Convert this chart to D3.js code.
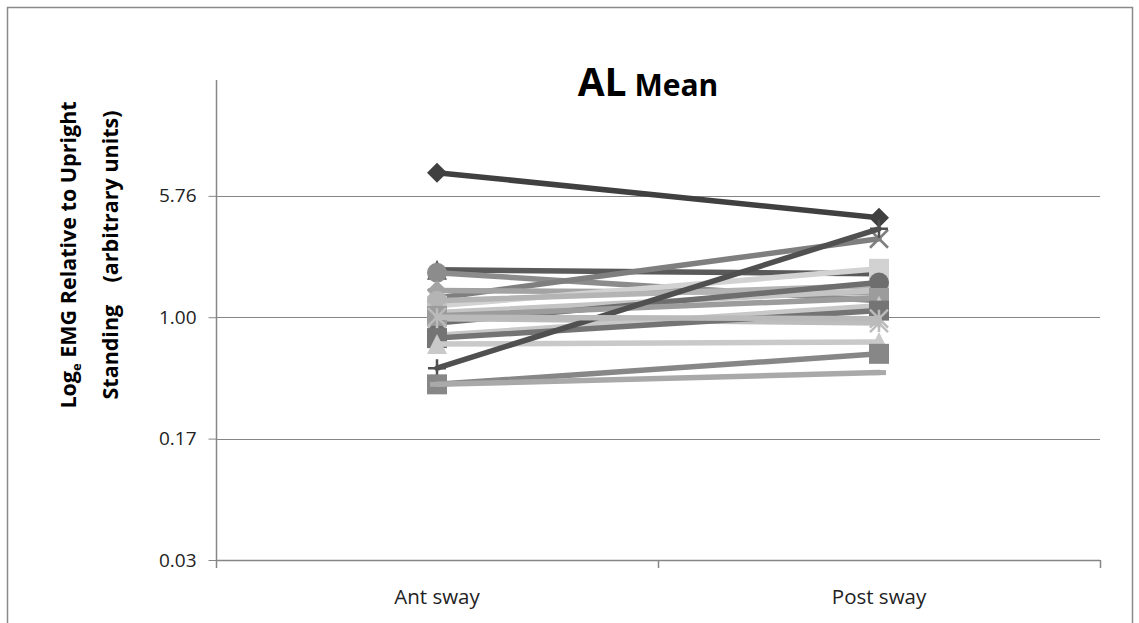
<!DOCTYPE html>
<html>
<head>
<meta charset="utf-8">
<script src="https://cdn.jsdelivr.net/npm/d3@7"></script>
<style>
  html, body { margin: 0; padding: 0; background: #fff; }
  svg { display: block; }
  text { font-family: "Open Sans", "Liberation Sans", sans-serif; }
</style>
</head>
<body>
<svg id="chart" width="1139" height="623"></svg>
<script>
// Categories on the x axis
const categories = ["Ant sway", "Post sway"];

// EMG ratio (relative to upright standing) for each subject, per sway direction
const antSway  = [8.04, 1.98, 1.90, 1.32, 1.47, 1.18, 1.27, 1.07, 0.92, 0.98, 1.02, 0.77, 0.74, 0.68, 0.48, 0.38, 0.38, 1.00];
const postSway = [4.20, 1.87, 1.27, 3.10, 1.42, 2.01, 1.58, 1.47, 1.65, 0.92, 1.32, 1.18, 1.10, 0.70, 3.58, 0.59, 0.45, 0.98];

// Log-e tick positions and their printed labels
const tickLogs   = [-3.5, -1.75, 0, 1.75];
const tickLabels = ["0.03", "0.17", "1.00", "5.76"];

// Series styling (marker glyph and grey shade)
const seriesMarkers = ["diamond","triangle","circle","x","diamond","square","circle","x","circle","star","square","triangle","square","triangle","plus","square","dash","star"];
const seriesColors  = ["#404040","#5a5a5a","#8c8c8c","#7f7f7f","#a3a3a3","#d2d2d2","#b4b4b4","#c4c4c4","#6e6e6e","#bdbdbd","#9c9c9c","#c8c8c8","#747474","#c9c9c9","#505050","#878787","#a9a9a9","#bababa"];

const svg = d3.select("#chart");
const plot = { left: 216, right: 1100, top: 80, bottom: 560 };

// Outer chart frame
svg.append("rect")
  .attr("x", 7.5).attr("y", 7.5)
  .attr("width", 1125).attr("height", 630)
  .attr("fill", "none").attr("stroke", "#8a8a8a").attr("stroke-width", 1.5);

const x = d3.scaleBand().domain(categories).range([plot.left, plot.right]);
const y = d3.scaleLog().base(Math.E)
  .domain([Math.exp(-3.5), Math.exp(3.42)])
  .range([plot.bottom, plot.top]);

const tickVals = tickLogs.map(Math.exp);

// Horizontal gridlines
svg.append("g").selectAll("line")
  .data(tickVals.slice(1))
  .join("line")
  .attr("x1", plot.left).attr("x2", plot.right)
  .attr("y1", d => Math.round(y(d)) + 0.5).attr("y2", d => Math.round(y(d)) + 0.5)
  .attr("stroke", "#868686").attr("stroke-width", 1);

// Y axis
const yAxis = d3.axisLeft(y)
  .tickValues(tickVals)
  .tickFormat((d, i) => tickLabels[i])
  .tickSize(8).tickPadding(12);
const gy = svg.append("g").attr("transform", `translate(${plot.left + 0.5},0)`).call(yAxis);
gy.select(".domain").attr("stroke", "#868686").attr("stroke-width", 1.5)
  .attr("d", `M0,${plot.top}V${plot.bottom}`);
gy.selectAll(".tick line").attr("stroke", "#868686");
gy.selectAll(".tick text").attr("font-size", 19).attr("fill", "#222")
  .style("font-family", "'Open Sans', sans-serif");

// X axis with boundary ticks between categories
const xg = svg.append("g");
xg.append("line")
  .attr("x1", plot.left).attr("x2", plot.right)
  .attr("y1", plot.bottom + 0.5).attr("y2", plot.bottom + 0.5)
  .attr("stroke", "#868686").attr("stroke-width", 1.5);
const boundaries = [plot.left, ...categories.map(c => x(c) + x.bandwidth())];
xg.selectAll("line.tk").data(boundaries).join("line").attr("class", "tk")
  .attr("x1", d => d + 0.5).attr("x2", d => d + 0.5)
  .attr("y1", plot.bottom).attr("y2", plot.bottom + 8)
  .attr("stroke", "#868686").attr("stroke-width", 1.5);
xg.selectAll("text").data(categories).join("text")
  .attr("x", d => x(d) + x.bandwidth() / 2)
  .attr("y", 604)
  .attr("text-anchor", "middle")
  .attr("font-size", 20.5).attr("fill", "#222")
  .text(d => d);

// Title
const title = svg.append("text")
  .attr("x", 648).attr("y", 96).attr("text-anchor", "middle")
  .attr("font-weight", "bold").attr("fill", "#000");
title.append("tspan").attr("font-size", 39).text("AL");
title.append("tspan").attr("font-size", 30).text(" Mean");

// Y axis title (two rotated lines)
const yt = svg.append("text")
  .attr("transform", "translate(0,255) rotate(-90)")
  .attr("text-anchor", "middle").attr("font-weight", "bold")
  .attr("font-size", 21.5).attr("fill", "#000");
const l1 = yt.append("tspan").attr("x", 0).attr("y", 76);
l1.append("tspan").text("Log");
l1.append("tspan").attr("font-size", 13).attr("dy", 5).text("e");
l1.append("tspan").attr("dy", -5).text(" EMG Relative to Upright");
yt.append("tspan").attr("x", 0).attr("y", 118).attr("xml:space", "preserve")
  .text("Standing    (arbitrary units)");

// Marker glyphs
function markerPath(type, s) {
  const h = s / 2;
  switch (type) {
    case "diamond": return `M0,${-h}L${h},0L0,${h}L${-h},0Z`;
    case "square": return `M${-h},${-h}H${h}V${h}H${-h}Z`;
    case "triangle": return `M0,${-h}L${h},${h}H${-h}Z`;
    case "circle": return d3.symbol(d3.symbolCircle, Math.PI * h * h)();
    default: return null;
  }
}
function strokeGlyph(type, s) {
  const h = s / 2;
  switch (type) {
    case "x": return `M${-h},${-h}L${h},${h}M${h},${-h}L${-h},${h}`;
    case "star": return `M${-h},${-h}L${h},${h}M${h},${-h}L${-h},${h}M0,${-h}V${h}`;
    case "plus": return `M${-h},0H${h}M0,${-h}V${h}`;
    case "dash": return `M${-h},0H${h}`;
  }
}

const series = antSway.map((a, i) => ({
  values: [{ cat: categories[0], v: a }, { cat: categories[1], v: postSway[i] }],
  marker: seriesMarkers[i],
  color: seriesColors[i]
}));

const cx = c => x(c) + x.bandwidth() / 2;
const line = d3.line().x(d => cx(d.cat)).y(d => y(d.v));

const sg = svg.append("g").selectAll("g").data(series).join("g");
sg.append("path")
  .attr("d", d => line(d.values))
  .attr("fill", "none")
  .attr("stroke", d => d.color)
  .attr("stroke-width", 5.5)
  .attr("stroke-linecap", "round");

sg.each(function (d) {
  const g = d3.select(this);
  d.values.forEach(p => {
    const tx = `translate(${cx(p.cat)},${y(p.v)})`;
    const filled = markerPath(d.marker, 20);
    if (filled) {
      g.append("path").attr("d", filled).attr("transform", tx)
        .attr("fill", d.color);
    } else {
      g.append("path").attr("d", strokeGlyph(d.marker, d.marker === "dash" ? 14 : 18)).attr("transform", tx)
        .attr("fill", "none").attr("stroke", d.color)
        .attr("stroke-width", d.marker === "dash" ? 5 : 2.5);
    }
  });
});
</script>
</body>
</html>
